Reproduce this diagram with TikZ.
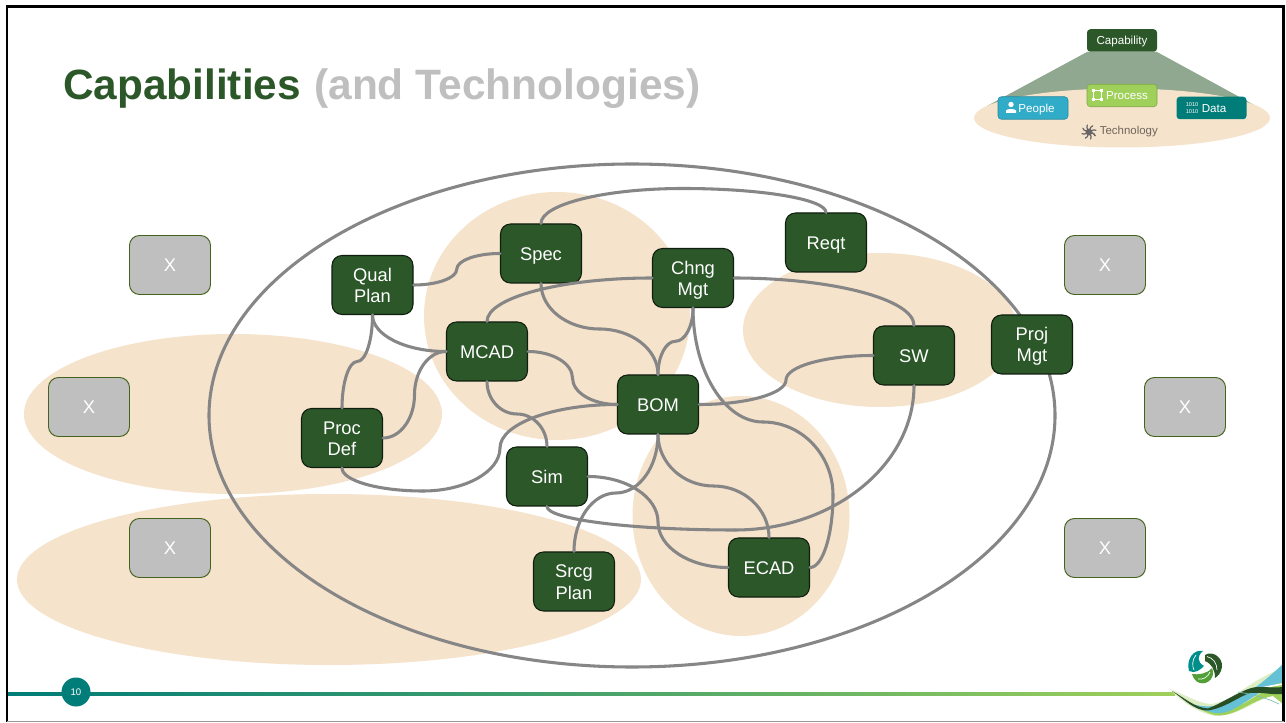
\documentclass[tikz,border=0pt]{standalone}
\usepackage{fontspec}
\setmainfont{Liberation Sans}
\usetikzlibrary{calc}
\definecolor{dgreen}{HTML}{2B5729}
\definecolor{tan}{HTML}{F6E3CC}
\definecolor{teal}{HTML}{007D78}
\definecolor{lgreen}{HTML}{9FD05A}
\definecolor{conn}{HTML}{868686}
\definecolor{sky}{HTML}{31ACC8}
\def\px{0.75pt}
\tikzset{
  boxn/.style={draw=black!65!dgreen,line width=.8pt,fill=dgreen,rounded corners=7.5pt,minimum width=81*\px,minimum height=59*\px,inner sep=0pt,align=center,text=white,font=\fontsize{13.75pt}{15.8pt}\selectfont},
  xbox/.style={draw=dgreen!70!olive,line width=.7pt,fill=black!25,rounded corners=7.5pt,minimum width=81*\px,minimum height=59*\px,inner sep=0pt,text=white,font=\fontsize{13.75pt}{15.8pt}\selectfont},
  blob/.style={fill=tan,draw=none},
  link/.style={draw=conn,line width=2.3pt,line cap=round,line join=round},
  mini/.style={rounded corners=2.5pt,minimum width=70*\px,minimum height=22.5*\px,inner sep=0pt,text=white,font=\fontsize{8.7pt}{9pt}\selectfont},
}
% a text line whose capitals are centred, whatever its descenders
\newcommand{\tl}[1]{\rule{0pt}{9.9pt}\smash{#1}}
\newcommand{\tm}[1]{\rule{0pt}{6.2pt}\smash{#1}}
% quarter-ellipse pieces
\newcommand{\hvc}[2]{\draw[link] (#1) .. controls ($(#1)!.55!(#1-|#2)$) and ($(#2)!.55!(#1-|#2)$) .. (#2);}
\newcommand{\vhc}[2]{\draw[link] (#1) .. controls ($(#1)!.55!(#1|-#2)$) and ($(#2)!.55!(#1|-#2)$) .. (#2);}
\newcommand{\hhc}[2]{\coordinate (mm) at ($(#1)!.5!(#2)$);\draw[link] (#1) .. controls ($(#1)!.55!(#1-|mm)$) and ($(mm)!.55!(#1-|mm)$) .. (mm) .. controls ($(mm)!.55!(mm|-#2)$) and ($(#2)!.55!(mm|-#2)$) .. (#2);}
\newcommand{\vvc}[2]{\coordinate (mm) at ($(#1)!.5!(#2)$);\draw[link] (#1) .. controls ($(#1)!.55!(#1|-mm)$) and ($(mm)!.55!(#1|-mm)$) .. (mm) .. controls ($(mm)!.55!(mm-|#2)$) and ($(#2)!.55!(mm-|#2)$) .. (#2);}
\begin{document}
\begin{tikzpicture}[x=0.75pt,y=-0.75pt]
\useasboundingbox (0,0) rectangle (1286,723);
\fill[white] (0,0) rectangle (1286,723);
% blobs
\fill[blob] (233,414) ellipse [x radius=209,y radius=80];
\fill[blob] (329,579.5) ellipse [x radius=312,y radius=85.5];
\fill[blob] (557,316) ellipse [x radius=133,y radius=124];
\fill[blob] (880,330) ellipse [x radius=137,y radius=77];
\fill[blob] (741,516) ellipse [x radius=108.5,y radius=120];
% big ellipse
\draw[conn,line width=2.3pt] (632,415.5) ellipse [x radius=423,y radius=251.5];
% title
\node[anchor=base west,inner sep=0pt,font=\fontsize{31.75pt}{36pt}\selectfont\bfseries,text=dgreen] (title) at (63,100) {Capabilities};
\node[anchor=base west,inner sep=0pt,font=\fontsize{31.85pt}{36pt}\selectfont\bfseries,text=black!25] (sub) at (314,100) {(and Technologies)};
% nodes
\node[boxn] (qual) at (372.5,285) {\tl{Qual}\\\tl{Plan}};
\node[boxn] (spec) at (541,253.5) {\tl{Spec}};
\node[boxn] (reqt) at (826,242.5) {\tl{Reqt}};
\node[boxn] (chng) at (693,278) {\tl{Chng}\\\tl{Mgt}};
\node[boxn] (mcad) at (487,351.5) {\tl{MCAD}};
\node[boxn] (bom) at (658,404.5) {\tl{BOM}};
\node[boxn] (sw) at (914,355.5) {\tl{SW}};
\node[boxn] (proj) at (1032,344.5) {\tl{Proj}\\\tl{Mgt}};
\node[boxn] (proc) at (342,438) {\tl{Proc}\\\tl{Def}};
\node[boxn] (sim) at (547,476.5) {\tl{Sim}};
\node[boxn] (srcg) at (574,581.5) {\rule{0pt}{11pt}\smash{Srcg}\\\tl{Plan}\rule[-.5pt]{0pt}{.5pt}};
\node[boxn] (ecad) at (769,567.5) {\tl{ECAD}};
\node[xbox] (x1) at (170,265) {X};
\node[xbox] (x2) at (89,407) {X};
\node[xbox] (x3) at (170,548) {X};
\node[xbox] (x4) at (1105,265) {X};
\node[xbox] (x5) at (1185,407) {X};
\node[xbox] (x6) at (1105,548) {X};
% way points
\coordinate (topw) at (683,188.5);
\coordinate (botw) at (735,530);
\coordinate (pa) at (423,491);
\coordinate (pb) at (500,448);
\coordinate (ca) at (763,422);
\coordinate (cb) at (833,495);
% connectors
\vhc{spec.north}{topw}\hvc{topw}{reqt.north}
\hhc{qual.east}{spec.west}
\vhc{qual.south}{mcad.west}
\vvc{qual.south}{proc.north}
\hhc{proc.east}{mcad.west}
\vhc{proc.south}{pa}\hvc{pa}{pb}\vhc{pb}{bom.west}
\vhc{mcad.north}{chng.west}
\hvc{chng.east}{sw.north}
\hhc{mcad.east}{bom.west}
\vvc{mcad.south}{sim.north}
\vvc{spec.south}{bom.north}
\vvc{chng.south}{bom.north}
\hhc{bom.east}{sw.west}
\vhc{chng.south}{ca}\hvc{ca}{cb}\vhc{cb}{ecad.east}
\vvc{bom.south}{ecad.north}
\vvc{bom.south}{srcg.north}
\hhc{sim.east}{ecad.west}
\vhc{sim.south}{botw}\hvc{botw}{sw.south}
% mini diagram
\fill[dgreen!52!white] (1087,52) -- (1157,52) -- (1256,106) -- (987,106) -- cycle;
\fill[blob] (1122,118) ellipse [x radius=148,y radius=29.5];
\node[mini,fill=dgreen] (cap) at (1122,40.5) {\tm{Capability}};
\node[mini,fill=lgreen,draw=lgreen!80!black,line width=.4pt] (procb) at (1122,95.5) {\hspace*{7.5pt}\tm{Process}};
\node[mini,fill=sky,draw=sky!80!black,line width=.4pt] (peop) at (1033,108) {\hspace*{5.25pt}\tm{People}};
\node[mini,fill=teal] (datab) at (1211.5,108) {\hspace*{3.75pt}\tm{Data}};
% mini icons
\fill[white] (1011,104.5) circle (2.7);
\fill[white] (1006,113) -- (1006,110.5) .. controls (1007,108.5) and (1015,108.5) .. (1016,110.5) -- (1016,113) -- cycle;
\draw[white,line width=.6pt] (1093.5,90.5) rectangle (1101.5,99.5);
\foreach \a/\b in {1093.5/90.5,1101.5/90.5,1093.5/99.5,1101.5/99.5}{\fill[white] (\a-1.5,\b-1.5) rectangle (\a+1.5,\b+1.5);}
\node[inner sep=0pt,text=white,align=center,font=\fontsize{4.2pt}{4.8pt}\selectfont] (bits) at (1192,108) {1010\\1010};
\node[inner sep=0pt,anchor=west,text=black!55!tan,font=\fontsize{8.6pt}{9pt}\selectfont] (tech) at (1099.5,131.5) {Technology};
\foreach \a in {20,65,...,380}{\draw[black!60,line width=.9pt,line cap=round] (1089,132) -- ++(\a:5) -- ++(\a+35:2.5);}
\fill[black!60] (1089,132) circle (3.4);
% footer
\fill[left color=teal,right color=lgreen,middle color=teal!55!lgreen] (8,692) rectangle (1175,695);
\node[circle,fill=teal,minimum size=29*\px,inner sep=0pt,text=white,font=\fontsize{7.2pt}{8pt}\selectfont] (pg) at (76,692) {10};
% logo
\fill[teal!75!cyan!90!black] (1203,651) .. controls (1193,649) and (1186,660) .. (1189,671) .. controls (1195,674) and (1200,670) .. (1204,666) .. controls (1197,662) and (1197,656) .. (1203,651) -- cycle;
\fill[dgreen] (1205,655) .. controls (1213,650) and (1223,658) .. (1222,667) .. controls (1221,673) and (1218,676) .. (1215,678) .. controls (1215,670) and (1212,664) .. (1205,661) -- cycle;
\fill[lgreen!45!dgreen!85!green] (1192,674) .. controls (1198,675) and (1207,674) .. (1212,668) .. controls (1216,677) and (1208,685) .. (1200,683) .. controls (1196,682) and (1193,678) .. (1192,674) -- cycle;
\draw[white,line width=.5pt] (1207,656.5) .. controls (1213,658) and (1217,663) .. (1217,670);
\draw[white,line width=.5pt] (1198,679) .. controls (1203,680) and (1208,677) .. (1210,672);
\draw[white,line width=.5pt] (1196,655) .. controls (1192,660) and (1192,666) .. (1194,670);
% swoosh
\fill[lgreen!35!white] (1170,689) .. controls (1190,697) and (1200,704) .. (1212,704) .. controls (1235,700) and (1250,680) .. (1283,668) -- (1283,690) .. controls (1255,700) and (1240,716) .. (1215,716) .. controls (1195,712) and (1180,700) .. (1170,689) -- cycle;
\fill[lgreen] (1200,709) .. controls (1230,718) and (1250,700) .. (1283,678) -- (1283,704) -- (1273,696) .. controls (1250,700) and (1235,718) .. (1215,715) .. controls (1210,714) and (1205,712) .. (1200,709) -- cycle;
\fill[sky!75!white] (1192,704) .. controls (1225,714) and (1255,690) .. (1283,664) -- (1283,682) .. controls (1255,690) and (1235,716) .. (1215,713) .. controls (1205,711) and (1197,708) .. (1192,704) -- cycle;
\draw[white,line width=1.2pt] (1210,703) .. controls (1230,698) and (1245,690) .. (1283,684);
\fill[dgreen!90!black] (1172,691) .. controls (1185,698) and (1195,708) .. (1208,708.5) .. controls (1225,702) and (1245,687) .. (1258,687) .. controls (1268,687) and (1276,688) .. (1283,687) -- (1283,694) .. controls (1272,695) and (1262,692) .. (1250,693) .. controls (1238,697) and (1225,708) .. (1208,710.5) .. controls (1195,711) and (1185,700) .. (1172,691) -- cycle;
\draw[teal!50!white,line width=.5pt] (1238,692) .. controls (1250,694) and (1265,697) .. (1279,704);
% frame
\fill[white] (1284,600) rectangle (1286,723);
\draw[black,line width=2pt] (7,722) -- (7,6.5) -- (1283.5,6.5) -- (1283.5,722);
\draw[black!40,line width=1pt] (7,721.5) -- (1283.5,721.5);
\end{tikzpicture}
\end{document}
